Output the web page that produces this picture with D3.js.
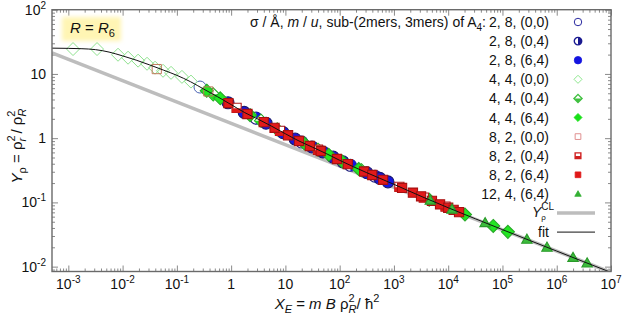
<!DOCTYPE html>
<html><head><meta charset="utf-8">
<script src="https://cdn.jsdelivr.net/npm/d3@7"></script>
<style>
body{margin:0;background:#fff;}
svg{display:block;font-family:"Liberation Sans",Arial,sans-serif;}
</style>
</head><body>
<svg id="c" width="623" height="316"></svg>
<script>
// ---------- data ----------
const xTicks = [1e-3,1e-2,1e-1,1,10,1e2,1e3,1e4,1e5,1e6,1e7];
const xTickBase = ["10","10","10","1","10","10","10","10","10","10","10"];
const xTickSup  = ["-3","-2","-1","","","2","3","4","5","6","7"];
const yTicks = [1e-2,1e-1,1,10,100];
const yTickBase = ["10","10","1","10","10"];
const yTickSup  = ["-2","-1","","","2"];

const legendLabels = ["2, 8, (0,0)","2, 8, (0,4)","2, 8, (6,4)","4, 4, (0,0)","4, 4, (0,4)","4, 4, (6,4)","8, 2, (0,0)","8, 2, (0,4)","8, 2, (6,4)","12, 4, (6,4)"];

// fit curve
const fitX = [5e-4,1e-3,1.78e-3,3.16e-3,5.62e-3,0.01,0.0178,0.0316,0.0562,0.1,0.178,0.316,0.562,1,1.78,3.16,5.62,10,17.8,31.6,56.2,100,316,1000,3162,1e4,31623,1e5,316228,1e6,3.16e6,1e7];
const fitY = [25.2,25.0,24.7,23.9,21.9,19.1,16.4,13.8,11.5,9.51,7.57,5.78,4.42,3.33,2.50,1.97,1.53,1.17,0.904,0.723,0.577,0.452,0.290,0.191,0.1245,0.0826,0.0556,0.0377,0.0256,0.01746,0.0119,0.00813];
// classical limit line
const clX = [5e-4,1e7];
const clY = [21.2,0.00813];

// series
const s1X = [0.267];                 const s1Y = [6.25];
const s2X = [2.88,20,158,447];       const s2Y = [2.05,0.87,0.378,0.256];
const s3X = [0.877,1.74,4.4,9.06,15.1,30.9,49,75.9,115,316,550,776];
const s3Y = [3.56,2.52,1.71,1.22,0.97,0.73,0.61,0.508,0.429,0.29,0.237,0.209];
const s4X = [1.22e-3,3.38e-3,8.24e-3,0.0126,0.0193,0.0282,0.0396,0.0556,0.0781,0.124,0.182];
const s4Y = [24.4,24.4,19.9,17.9,16.1,14.4,12.5,11.2,10.4,9.0,7.6];
const s5X = [0.468,3.55,39.8,251];   const s5Y = [4.81,1.87,0.661,0.317];
const s6X = [0.355,0.631,2.24,7.08,22.4,63.1,112,224,4467,20400,67600,126000];
const s6Y = [5.48,4.18,2.28,1.37,0.826,0.55,0.432,0.331,0.110,0.0646,0.043,0.0348];
const s7X = [0.0426,0.38];           const s7Y = [11.9,5.33];
const s8X = [1.26,7.94,39.8,1259,3548,8913];
const s8Y = [2.97,1.30,0.66,0.175,0.119,0.0861];
const s9X = [0.891,2.0,3.98,6.31,11.2,17.8,28.2,44.7,89.1,141,282,398,631,1413,2239,3162,5012,7079,10000,12589,15849];
const s9Y = [3.52,2.38,1.78,1.45,1.11,0.904,0.755,0.631,0.474,0.395,0.303,0.267,0.225,0.168,0.1416,0.1245,0.1057,0.0933,0.0826,0.0764,0.0705];
const s10X = [4677,11749,47863,281838,660693,1995262,3630781];
const s10Y = [0.108,0.0782,0.0483,0.0266,0.020,0.01387,0.01138];

// ---------- setup ----------
const svg = d3.select("#c");
const L=52, R=611, T=9.7, B=271.5;
const x = d3.scaleLog().domain([5e-4,1e7]).range([L,R]);
const y = d3.scaleLog().domain([0.0084,100]).range([B,T]);

const series = [
  {X:s1X,Y:s1Y,shape:"circle",mode:"open",stroke:"#4a62b4",fill:"#1414e0",lstroke:"#2a2aa0"},
  {X:s2X,Y:s2Y,shape:"circle",mode:"half",stroke:"#1a1a80",fill:"#1414e0",lstroke:"#1a1a90"},
  {X:s3X,Y:s3Y,shape:"circle",mode:"full",stroke:"#1a1a70",fill:"#1616e0",lstroke:"#1414e0"},
  {X:s4X,Y:s4Y,shape:"diamond",mode:"open",stroke:"#8fe28f",fill:"#22e022",lstroke:"#90e890"},
  {X:s5X,Y:s5Y,shape:"diamond",mode:"half",stroke:"#22a822",fill:"#22e022",lstroke:"#40c040"},
  {X:s6X,Y:s6Y,shape:"diamond",mode:"full",stroke:"#28a828",fill:"#22e622",lstroke:"#18e018"},
  {X:s7X,Y:s7Y,shape:"square",mode:"open",stroke:"#c07a5c",fill:"#e01818",lstroke:"#e09090"},
  {X:s8X,Y:s8Y,shape:"square",mode:"half",stroke:"#b01818",fill:"#e01818",lstroke:"#d02020"},
  {X:s9X,Y:s9Y,shape:"square",mode:"full",stroke:"#a81010",fill:"#e21a1a",lstroke:"#e01818"},
  {X:s10X,Y:s10Y,shape:"triangle",mode:"full",stroke:"#2a9a2a",fill:"#3cbc3c",lstroke:"#33b033"}
];

// clip
svg.append("clipPath").attr("id","clip").append("rect")
  .attr("x",L).attr("y",T).attr("width",R-L).attr("height",B-T);

// filter for soft box
const defs = svg.append("defs");
defs.append("filter").attr("id","soft").attr("x","-20%").attr("y","-30%").attr("width","140%").attr("height","160%")
  .append("feGaussianBlur").attr("stdDeviation",2);

// ---------- ticks ----------
function minorTicks(dom){
  const out=[];
  for(let d=-4; d<=7; d++) for(let k=2;k<=9;k++){const v=k*Math.pow(10,d); if(v>dom[0]&&v<dom[1]) out.push(v);}
  return out;
}
const xMinor = minorTicks(x.domain()), yMinor = minorTicks(y.domain());
const tickCol = "#8a8a8a";
function drawAxis(axisFn, scale, vals, size, tr){
  const g = svg.append("g").attr("transform",tr)
    .call(axisFn(scale).tickValues(vals).tickSize(size).tickSizeOuter(0).tickFormat(""));
  g.select(".domain").remove();
  g.selectAll(".tick line").attr("stroke",tickCol).attr("stroke-width",1);
}
drawAxis(d3.axisBottom, x, xTicks, -6, `translate(0,${B})`);
drawAxis(d3.axisBottom, x, xMinor, -3, `translate(0,${B})`);
drawAxis(d3.axisTop, x, xTicks, -6, `translate(0,${T})`);
drawAxis(d3.axisTop, x, xMinor, -3, `translate(0,${T})`);
drawAxis(d3.axisLeft, y, yTicks, -6, `translate(${L},0)`);
drawAxis(d3.axisLeft, y, yMinor, -3, `translate(${L},0)`);
drawAxis(d3.axisRight, y, yTicks, -6, `translate(${R},0)`);
drawAxis(d3.axisRight, y, yMinor, -3, `translate(${R},0)`);

// tick labels
xTicks.forEach((v,i)=>{
  const t = svg.append("text").attr("x",x(v)).attr("y",B+17).attr("text-anchor","middle")
    .attr("font-size",14).attr("fill","#111");
  t.append("tspan").text(xTickBase[i]);
  if(xTickSup[i]) t.append("tspan").attr("font-size",10).attr("dy",-6).text(xTickSup[i]);
});
yTicks.forEach((v,i)=>{
  const t = svg.append("text").attr("x",46).attr("y",y(v)+5).attr("text-anchor","end")
    .attr("font-size",14).attr("fill","#111");
  t.append("tspan").text(yTickBase[i]);
  if(yTickSup[i]) t.append("tspan").attr("font-size",10).attr("dy",-6).text(yTickSup[i]);
});

// ---------- yellow box ----------
svg.append("rect").attr("x",62).attr("y",17).attr("width",59).attr("height",24)
  .attr("fill","#fff5b4").attr("filter","url(#soft)");
{
  const t = svg.append("text").attr("x",70).attr("y",33).attr("font-size",15).attr("fill","#111");
  t.append("tspan").attr("font-style","italic").text("R");
  t.append("tspan").text(" = ");
  t.append("tspan").attr("font-style","italic").text("R");
  t.append("tspan").attr("font-size",11).attr("dy",4).text("6");
}

// ---------- plot ----------
const plot = svg.append("g").attr("clip-path","url(#clip)");
const line = d3.line().x(d=>x(d[0])).y(d=>y(d[1]));
plot.append("path").datum(d3.zip(clX,clY)).attr("d",line)
  .attr("fill","none").attr("stroke","#bdbdbd").attr("stroke-width",3.5);

function marker(g, s, cx, cy, k, legend){
  const stroke = legend ? s.lstroke : s.stroke;
  const fillCol = legend ? s.lstroke : s.fill;
  let full, half;
  if(s.shape==="circle"){
    const r=6*k;
    full = `M${cx-r},${cy}A${r},${r} 0 1,0 ${cx+r},${cy}A${r},${r} 0 1,0 ${cx-r},${cy}Z`;
    half = `M${cx},${cy-r}A${r},${r} 0 0,1 ${cx},${cy+r}Z`;
  } else if(s.shape==="diamond"){
    const d=6.5*k;
    full = `M${cx},${cy-d}L${cx+d},${cy}L${cx},${cy+d}L${cx-d},${cy}Z`;
    half = `M${cx-d},${cy}L${cx+d},${cy}L${cx},${cy+d}Z`;
  } else if(s.shape==="square"){
    const h=4.6*k;
    full = `M${cx-h},${cy-h}H${cx+h}V${cy+h}H${cx-h}Z`;
    half = `M${cx-h},${cy+h*0.1}H${cx+h}V${cy+h}H${cx-h}Z`;
  } else {
    const a=5.2*k;
    full = `M${cx},${cy-a}L${cx+a},${cy+a*0.75}L${cx-a},${cy+a*0.75}Z`;
  }
  if(s.mode==="full"){
    g.append("path").attr("d",full).attr("fill",fillCol).attr("stroke",stroke).attr("stroke-width",legend?0.8:1.1);
  } else if(s.mode==="open"){
    g.append("path").attr("d",full).attr("fill",legend?"#fff":"none").attr("stroke",stroke).attr("stroke-width",1);
  } else {
    g.append("path").attr("d",full).attr("fill","#fff").attr("stroke",stroke).attr("stroke-width",legend?1.4:1.1);
    g.append("path").attr("d",half).attr("fill",fillCol).attr("stroke","none");
  }
}

series.forEach(s=>{
  const g = plot.append("g");
  d3.zip(s.X,s.Y).forEach(d=> marker(g, s, x(d[0]), y(d[1]), 1, false));
});

plot.append("path").datum(d3.zip(fitX,fitY)).attr("d",line.curve(d3.curveMonotoneX))
  .attr("fill","none").attr("stroke","#111").attr("stroke-width",1);

// frame
svg.append("rect").attr("x",L).attr("y",T).attr("width",R-L).attr("height",B-T)
  .attr("fill","none").attr("stroke","#6a6a6a").attr("stroke-width",1.4);

// ---------- legend ----------
const lg = svg.append("g").attr("font-size",14).attr("fill","#111");
const rowY = i => 22 + i*19.1;
{
  const t = lg.append("text").attr("x",486).attr("y",rowY(0)+5).attr("text-anchor","end");
  t.append("tspan").text("σ / Å, ");
  t.append("tspan").attr("font-style","italic").text("m");
  t.append("tspan").text(" / ");
  t.append("tspan").attr("font-style","italic").text("u");
  t.append("tspan").text(", sub-(2mers, 3mers) of A");
  t.append("tspan").attr("font-size",10).attr("dy",4).text("4");
  t.append("tspan").attr("dy",-4).text(":");
}
legendLabels.forEach((lab,i)=>{
  lg.append("text").attr("x",549).attr("y",rowY(i)+5).attr("text-anchor","end").text(lab);
  marker(lg, series[i], 578, rowY(i), 0.62, true);
});
// Y_rho^CL
{
  const yy = rowY(10);
  lg.append("line").attr("x1",557).attr("x2",595).attr("y1",yy).attr("y2",yy)
    .attr("stroke","#bdbdbd").attr("stroke-width",3.5);
  const t = lg.append("text").attr("x",532).attr("y",yy+4);
  t.append("tspan").attr("font-style","italic").text("Y");
  t.append("tspan").attr("font-size",10).attr("dy",-7).text("CL");
  t.append("tspan").attr("font-size",8).attr("dx",-13).attr("dy",10).text("ρ");
}
{
  const yy = rowY(11);
  lg.append("line").attr("x1",557).attr("x2",595).attr("y1",yy).attr("y2",yy)
    .attr("stroke","#111").attr("stroke-width",1);
  lg.append("text").attr("x",549).attr("y",yy+5).attr("text-anchor","end").text("fit");
}

// ---------- axis titles ----------
{
  const t = svg.append("text").attr("x",327).attr("y",309).attr("text-anchor","middle")
    .attr("font-size",15).attr("fill","#111");
  t.append("tspan").attr("font-style","italic").text("X");
  t.append("tspan").attr("font-style","italic").attr("font-size",11).attr("dy",4).text("E");
  t.append("tspan").attr("dy",-4).text(" = ");
  t.append("tspan").attr("font-style","italic").text("m B ");
  t.append("tspan").text("ρ");
  t.append("tspan").attr("font-size",11).attr("dy",-7).text("2");
  t.append("tspan").attr("font-size",11).attr("font-style","italic").attr("dx",-6).attr("dy",11).text("R");
  t.append("tspan").attr("dy",-4).text("/ ħ");
  t.append("tspan").attr("font-size",11).attr("dy",-7).text("2");
}
{
  const t = svg.append("text").attr("transform","translate(22,146) rotate(-90)")
    .attr("text-anchor","middle").attr("font-size",15).attr("fill","#111");
  t.append("tspan").attr("font-style","italic").text("Y");
  t.append("tspan").attr("font-size",11).attr("dy",4).text("ρ");
  t.append("tspan").attr("dy",-4).text(" = ρ");
  t.append("tspan").attr("font-size",11).attr("dy",-7).text("2");
  t.append("tspan").attr("font-size",11).attr("font-style","italic").attr("dx",-6).attr("dy",11).text("r");
  t.append("tspan").attr("dy",-4).text(" / ρ");
  t.append("tspan").attr("font-size",11).attr("dy",-7).text("2");
  t.append("tspan").attr("font-size",11).attr("font-style","italic").attr("dx",-6).attr("dy",11).text("R");
}
</script>
</body></html>
